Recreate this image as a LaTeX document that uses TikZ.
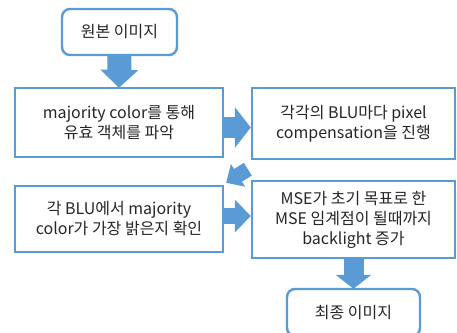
\documentclass[tikz,border=0pt]{standalone}
\usepackage{fontspec}
\setmainfont{Noto Sans CJK KR}
\usetikzlibrary{arrows.meta,calc}
\definecolor{ofblue}{HTML}{5B9BD5}
\definecolor{txt}{HTML}{262626}
\tikzset{
  box/.style={draw=ofblue, line width=2.4pt, fill=white, align=center, text=txt,
    font=\fontsize{16pt}{20pt}\selectfont, inner sep=0pt},
  rbox/.style={box, rounded corners=8pt},
  blk/.style={draw=ofblue, line cap=butt}
}
\begin{document}
\begin{tikzpicture}[x=1pt,y=-1pt]
\useasboundingbox (0,0) rectangle (457,332);
\begin{scope}
\clip (0,0) rectangle (457,332);
\node[rbox, minimum width=115pt, minimum height=46pt] (b1) at (119.5,32) {원본 이미지};
\node[box, minimum width=208pt, minimum height=69pt] (b2) at (119,122.5) {majority color를 통해\\유효 객체를 파악};
\node[box, minimum width=203pt, minimum height=71pt] (b3) at (353.5,123.5) {각각의 BLU마다 pixel\\compensation을 진행};
\node[box, minimum width=208pt, minimum height=66pt] (b4) at (119,219) {각 BLU에서 majority\\color가 가장 밝은지 확인};
\node[box, minimum width=203pt, minimum height=77pt] (b5) at (353.5,219.5) {MSE가 초기 목표로 한\\MSE 임계점이 될때까지\\backlight 증가};
\node[rbox, minimum width=133pt, minimum height=47pt] (b6) at (353.5,312.5) {최종 이미지};
\end{scope}
\draw[blk, line width=24pt, -{Triangle[width=37pt,length=18pt]}, color=ofblue]
  ([yshift=1pt]b1.south) -- ([yshift=-1pt]b2.north);
\draw[blk, line width=21pt, -{Triangle[width=40pt,length=16pt]}, color=ofblue]
  ([xshift=-1pt,yshift=-5pt]b2.east) -- ([yshift=-5pt]b2.east -| b3.west);
\draw[blk, line width=15pt, -{Triangle[width=26pt,length=14pt]}, color=ofblue]
  ($(b3.south west)+(-3,9)$) -- ($(b4.north east)+(2,-2)$);
\draw[blk, line width=16pt, -{Triangle[width=32pt,length=16pt]}, color=ofblue]
  ([xshift=-1pt,yshift=3pt]b4.east) -- ([yshift=3pt]b4.east -| b5.west);
\draw[blk, line width=20pt, -{Triangle[width=35pt,length=14pt]}, color=ofblue]
  ([yshift=1pt]b5.south) -- ([yshift=-1pt]b6.north);
\end{tikzpicture}
\end{document}
